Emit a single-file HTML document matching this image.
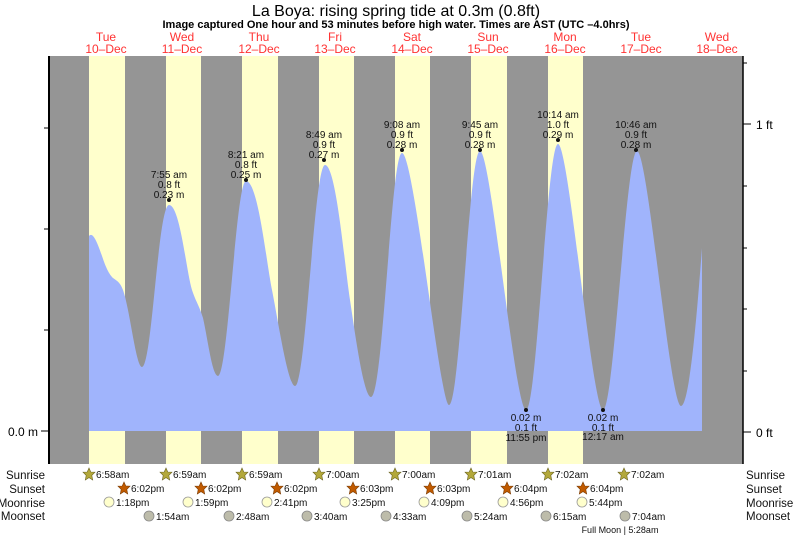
<!DOCTYPE html>
<html><head><meta charset="utf-8"><style>
body{margin:0;background:#fff;}
svg{display:block;font-family:"Liberation Sans",sans-serif;}
</style></head><body>
<svg width="793" height="537" viewBox="0 0 793 537">
<rect x="49" y="56" width="694" height="408" fill="#959595"/>
<g fill="#ffffcc">
<rect x="89" y="56" width="36" height="408"/>
<rect x="166" y="56" width="35" height="408"/>
<rect x="242" y="56" width="36" height="408"/>
<rect x="319" y="56" width="35" height="408"/>
<rect x="395" y="56" width="35" height="408"/>
<rect x="471" y="56" width="36" height="408"/>
<rect x="548" y="56" width="35" height="408"/>
</g>
<path fill="#a0b4fc" d="M89,431 L89,236 C92,232 96,238 102,256 C106,268 109,274 113,278 C117,281 120,282 123,290 C130,310 136,367 142,367 C152,367 158,205 169,205 C180,205 186,270 192,290 C196,302 199,305 203,318 C208,340 212,375 218,376 C228,376 236,181 246,181 C258,181 266,260 272,290 C278,320 288,386 295,386 C306,386 314,165 325,165 C336,165 344,260 350,300 C356,340 364,397 371,397 C383,397 391,153 402,153 C414,153 440,405 449,405 C460,405 469,151 480,151 C491,151 515,410 526,410 C537,410 547,144 558,144 C569,144 592,410 603,410 C614,410 626,151 637,151 C648,151 670,406 681,406 C690,406 698,300 702,248 L702,431 Z"/>
<line x1="49" y1="56" x2="49" y2="464" stroke="#000" stroke-width="2"/>
<line x1="743" y1="56" x2="743" y2="464" stroke="#000" stroke-width="1.5"/>
<g stroke="#000" stroke-width="1">
<line x1="41" y1="431" x2="49" y2="431"/><line x1="44" y1="330" x2="49" y2="330"/><line x1="44" y1="229" x2="49" y2="229"/><line x1="44" y1="128" x2="49" y2="128"/>
<line x1="743" y1="432" x2="751" y2="432"/><line x1="743" y1="124" x2="751" y2="124"/>
<line x1="743" y1="63" x2="747" y2="63"/><line x1="743" y1="186" x2="747" y2="186"/><line x1="743" y1="248" x2="747" y2="248"/><line x1="743" y1="309" x2="747" y2="309"/><line x1="743" y1="371" x2="747" y2="371"/>
</g>
<text x="38" y="436" font-size="12" text-anchor="end">0.0 m</text>
<text x="756" y="129" font-size="12">1 ft</text>
<text x="756" y="437" font-size="12">0 ft</text>
<text x="396" y="16" font-size="16" text-anchor="middle">La Boya: rising  spring tide at 0.3m (0.8ft)</text>
<text x="396" y="28" font-size="11" font-weight="bold" text-anchor="middle">Image captured One hour and 53 minutes before high water. Times are AST (UTC –4.0hrs)</text>
<g fill="#ff3333" font-size="12" text-anchor="middle">
<text x="106" y="41">Tue</text><text x="106" y="53">10–Dec</text>
<text x="182" y="41">Wed</text><text x="182" y="53">11–Dec</text>
<text x="259" y="41">Thu</text><text x="259" y="53">12–Dec</text>
<text x="335" y="41">Fri</text><text x="335" y="53">13–Dec</text>
<text x="412" y="41">Sat</text><text x="412" y="53">14–Dec</text>
<text x="488" y="41">Sun</text><text x="488" y="53">15–Dec</text>
<text x="565" y="41">Mon</text><text x="565" y="53">16–Dec</text>
<text x="641" y="41">Tue</text><text x="641" y="53">17–Dec</text>
<text x="717" y="41">Wed</text><text x="717" y="53">18–Dec</text>
</g>
<g font-size="10" text-anchor="middle" fill="#111">
<circle cx="169" cy="200" r="2"/><text x="169" y="178">7:55 am</text><text x="169" y="188">0.8 ft</text><text x="169" y="198">0.23 m</text>
<circle cx="246" cy="180" r="2"/><text x="246" y="158">8:21 am</text><text x="246" y="168">0.8 ft</text><text x="246" y="178">0.25 m</text>
<circle cx="324" cy="160" r="2"/><text x="324" y="138">8:49 am</text><text x="324" y="148">0.9 ft</text><text x="324" y="158">0.27 m</text>
<circle cx="402" cy="150" r="2"/><text x="402" y="128">9:08 am</text><text x="402" y="138">0.9 ft</text><text x="402" y="148">0.28 m</text>
<circle cx="480" cy="150" r="2"/><text x="480" y="128">9:45 am</text><text x="480" y="138">0.9 ft</text><text x="480" y="148">0.28 m</text>
<circle cx="558" cy="140" r="2"/><text x="558" y="118">10:14 am</text><text x="558" y="128">1.0 ft</text><text x="558" y="138">0.29 m</text>
<circle cx="636" cy="150" r="2"/><text x="636" y="128">10:46 am</text><text x="636" y="138">0.9 ft</text><text x="636" y="148">0.28 m</text>
<circle cx="526" cy="410" r="2"/><text x="526" y="421">0.02 m</text><text x="526" y="431">0.1 ft</text><text x="526" y="441">11:55 pm</text>
<circle cx="603" cy="410" r="2"/><text x="603" y="421">0.02 m</text><text x="603" y="431">0.1 ft</text><text x="603" y="440">12:17 am</text>
</g>
<g font-size="11.5" fill="#111">
<text x="45" y="479" text-anchor="end">Sunrise</text><text x="45" y="493" text-anchor="end">Sunset</text><text x="45" y="507" text-anchor="end">Moonrise</text><text x="45" y="520" text-anchor="end">Moonset</text>
<text x="746" y="479">Sunrise</text><text x="746" y="493">Sunset</text><text x="746" y="507">Moonrise</text><text x="746" y="520">Moonset</text>
</g>
<defs>
<polygon id="st" points="0,-6 1.8,-2 6,-1.8 2.8,1.4 3.7,6 0,3.6 -3.7,6 -2.8,1.4 -6,-1.8 -1.8,-2"/>
</defs>
<g font-size="10" fill="#111">
<g fill="#b3a83a" stroke="#6b6420" stroke-width="0.6">
<use href="#st" x="89" y="474"/><use href="#st" x="166" y="474"/><use href="#st" x="242" y="474"/><use href="#st" x="319" y="474"/><use href="#st" x="395" y="474"/><use href="#st" x="471" y="474"/><use href="#st" x="548" y="474"/><use href="#st" x="624" y="474"/>
</g>
<text x="96" y="478">6:58am</text><text x="173" y="478">6:59am</text><text x="249" y="478">6:59am</text><text x="326" y="478">7:00am</text><text x="402" y="478">7:00am</text><text x="478" y="478">7:01am</text><text x="555" y="478">7:02am</text><text x="631" y="478">7:02am</text>
<g fill="#c05a00" stroke="#7a3a00" stroke-width="0.6">
<use href="#st" x="124" y="488"/><use href="#st" x="201" y="488"/><use href="#st" x="277" y="488"/><use href="#st" x="353" y="488"/><use href="#st" x="430" y="488"/><use href="#st" x="507" y="488"/><use href="#st" x="583" y="488"/>
</g>
<text x="131" y="492">6:02pm</text><text x="208" y="492">6:02pm</text><text x="284" y="492">6:02pm</text><text x="360" y="492">6:03pm</text><text x="437" y="492">6:03pm</text><text x="514" y="492">6:04pm</text><text x="590" y="492">6:04pm</text>
<g fill="#ffffcc" stroke="#999" stroke-width="0.8">
<circle cx="109" cy="502" r="5"/><circle cx="188" cy="502" r="5"/><circle cx="267" cy="502" r="5"/><circle cx="345" cy="502" r="5"/><circle cx="424" cy="502" r="5"/><circle cx="503" cy="502" r="5"/><circle cx="582" cy="502" r="5"/>
</g>
<text x="116" y="506">1:18pm</text><text x="195" y="506">1:59pm</text><text x="274" y="506">2:41pm</text><text x="352" y="506">3:25pm</text><text x="431" y="506">4:09pm</text><text x="510" y="506">4:56pm</text><text x="589" y="506">5:44pm</text>
<g fill="#bdbcaa" stroke="#888" stroke-width="0.8">
<circle cx="149" cy="516" r="5"/><circle cx="229" cy="516" r="5"/><circle cx="307" cy="516" r="5"/><circle cx="386" cy="516" r="5"/><circle cx="467" cy="516" r="5"/><circle cx="546" cy="516" r="5"/><circle cx="625" cy="516" r="5"/>
</g>
<text x="156" y="520">1:54am</text><text x="236" y="520">2:48am</text><text x="314" y="520">3:40am</text><text x="393" y="520">4:33am</text><text x="474" y="520">5:24am</text><text x="553" y="520">6:15am</text><text x="632" y="520">7:04am</text>
<text x="620" y="533" font-size="9" text-anchor="middle">Full Moon | 5:28am</text>
</g>
</svg>
</body></html>
